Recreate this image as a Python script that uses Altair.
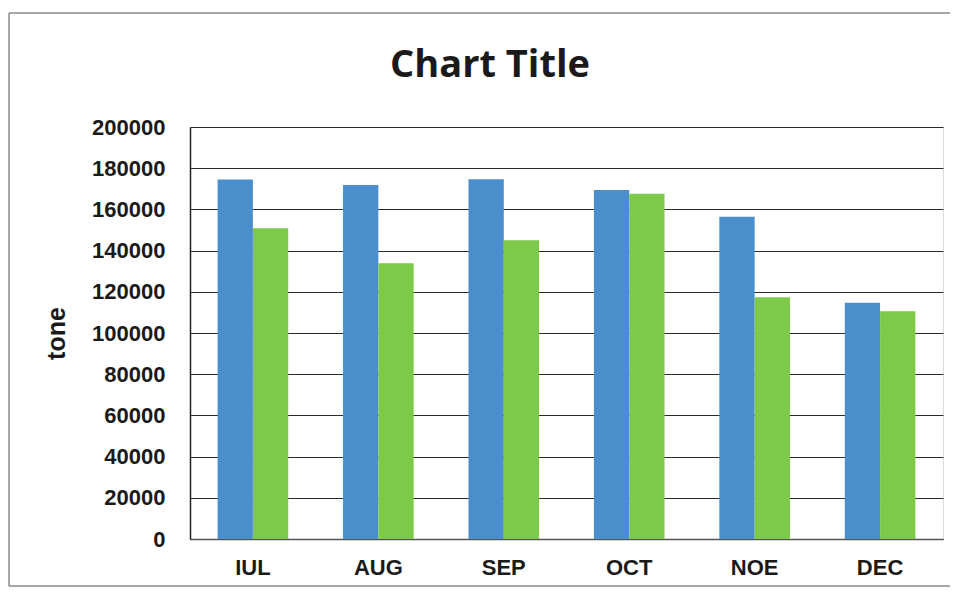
import altair as alt
import pandas as pd

months = ["IUL", "AUG", "SEP", "OCT", "NOE", "DEC"]
series_a = [174500, 171800, 174600, 169400, 156400, 114700]
series_b = [150900, 133900, 145000, 167600, 117400, 110500]
series_names = ["Series1", "Series2"]
y_ticks = [0, 20000, 40000, 60000, 80000, 100000, 120000, 140000, 160000, 180000, 200000]
chart_title = ["Chart Title"]

rows = []
for m, a, b in zip(months, series_a, series_b):
    rows.append({"month": m, "series": series_names[0], "value": a})
    rows.append({"month": m, "series": series_names[1], "value": b})
df = pd.DataFrame(rows)

label_font = "Liberation Sans, Arial"

bars = alt.Chart(df).mark_bar().encode(
    x=alt.X("month:N", sort=months, title=None,
            scale=alt.Scale(paddingInner=0.437, paddingOuter=0.22),
            axis=alt.Axis(labelAngle=0, labelFont=label_font, labelFontSize=22,
                          labelFontWeight="bold", labelColor="#1a1a1a",
                          labelPadding=18, ticks=False, domainColor="#555555",
                          domainWidth=1.5, grid=False)),
    xOffset=alt.XOffset("series:N", sort=series_names),
    y=alt.Y("value:Q", title="tone",
            scale=alt.Scale(domain=[0, 200000], nice=False),
            axis=alt.Axis(values=y_ticks, format="d", labelFont=label_font,
                          labelFontSize=22, labelFontWeight="bold",
                          labelColor="#1a1a1a", labelPadding=25, ticks=False,
                          domainColor="#222222", domainWidth=1.5,
                          gridColor="#2a2a2a", gridWidth=1.2,
                          titleFont=label_font, titleFontSize=25,
                          titleFontWeight="bold", titleColor="#1a1a1a",
                          titlePadding=22)),
    color=alt.Color("series:N", sort=series_names, legend=None,
                    scale=alt.Scale(domain=series_names,
                                    range=["#4A8FCB", "#7DC94A"])),
)

frame_df = pd.DataFrame({"k": [0]})
frame_style = dict(color="#8a8a8a", strokeWidth=1.5)
frame_left = alt.Chart(frame_df).mark_rule(**frame_style).encode(
    x=alt.value(-181), y=alt.value(-114), y2=alt.value(459))
frame_top = alt.Chart(frame_df).mark_rule(**frame_style).encode(
    x=alt.value(-181), x2=alt.value(760), y=alt.value(-114))
frame_bottom = alt.Chart(frame_df).mark_rule(**frame_style).encode(
    x=alt.value(-181), x2=alt.value(760), y=alt.value(459))

title = alt.Chart(pd.DataFrame({"t": chart_title})).mark_text(
    font="Open Sans, Lato", fontSize=38, fontWeight="bold", color="#1a1a1a",
    align="center", baseline="alphabetic"
).encode(
    text="t:N", x=alt.value(300), y=alt.value(-50),
)

chart = alt.layer(frame_left, frame_top, frame_bottom, bars, title).properties(
    width=753, height=412,
    padding={"left": 182, "top": 119, "right": 9, "bottom": 49},
    autosize=alt.AutoSizeParams(type="none"),
).configure_view(stroke=None).configure(background="white")

chart.save("out.html", embed_options={"renderer": "svg", "actions": False})
